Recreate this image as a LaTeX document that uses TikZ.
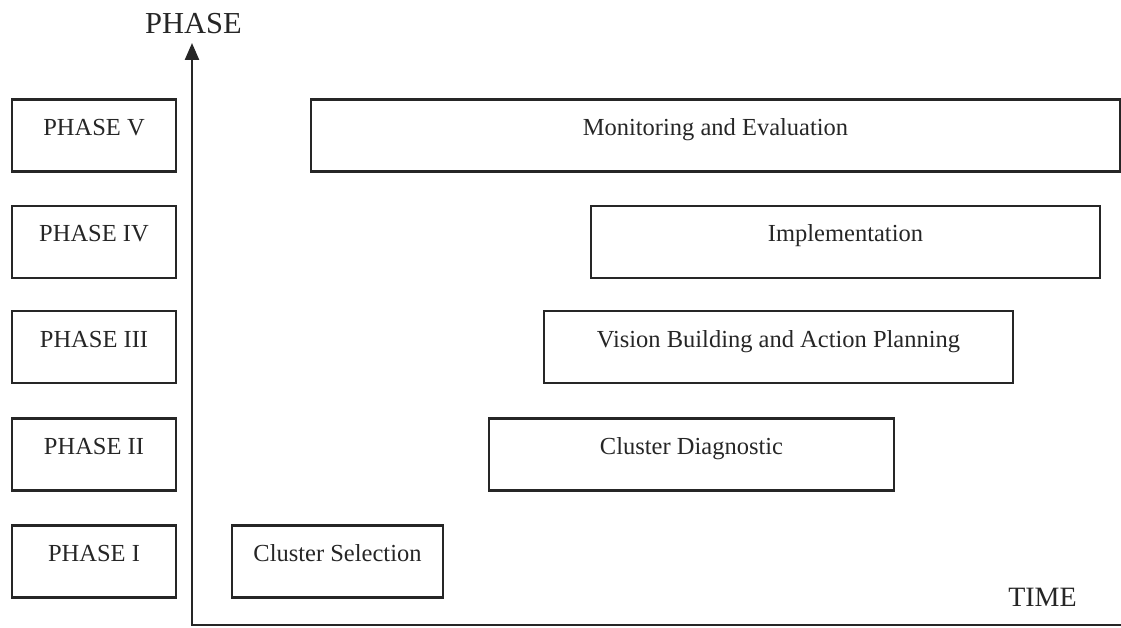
\documentclass[tikz,border=0pt]{standalone}
\usepackage{fontspec}
\setmainfont{Liberation Serif}
\usetikzlibrary{arrows.meta}
\begin{document}
\begin{tikzpicture}[x=1pt, y=-1pt,
    phase/.style={draw=black!85, line width=2.4pt, inner sep=0pt,
      text height=36pt, text depth=36pt, text=black!85,
      font=\fontsize{24.5}{29}\selectfont},
    axis/.style={draw=black!85, line width=2.4pt},
    title/.style={anchor=base, text=black!85}]
      \useasboundingbox (0,0) rectangle (1121,628);

      \coordinate (top) at (192, 43);
      \coordinate (o)   at (192, 625);
      \coordinate (end) at (1121, 625);
      \draw [axis, {Triangle[width=14pt,length=17pt]}-] (top) -- (o) -- (end);
      \node (phase) at (193.5, 34) [title, font=\fontsize{30.5}{36}\selectfont] {PHASE};
      \node (time)  at (1042.5, 606) [title, font=\fontsize{28}{33}\selectfont] {TIME};

      \node (p5) at (94, 135.5) [phase, minimum width=164pt] {PHASE V};
      \node (p4) at (94, 242)   [phase, minimum width=164pt] {PHASE IV};
      \node (p3) at (94, 347)   [phase, minimum width=164pt] {PHASE III};
      \node (p2) at (94, 454.5) [phase, minimum width=164pt] {PHASE II};
      \node (p1) at (94, 561.5) [phase, minimum width=164pt] {PHASE I};

      \node (monitor) at (715.5, 135.5) [phase, minimum width=809pt] {Monitoring and Evaluation};
      \node (impl)    at (845.5, 242)   [phase, minimum width=509pt] {Implementation};
      \node (vision)  at (778.5, 347)   [phase, minimum width=469pt] {Vision Building and Action Planning};
      \node (diag)    at (691.5, 454.5) [phase, minimum width=405pt] {Cluster Diagnostic};
      \node (select)  at (337.5, 561.5) [phase, minimum width=211pt] {Cluster Selection};
    \end{tikzpicture}
\end{document}
